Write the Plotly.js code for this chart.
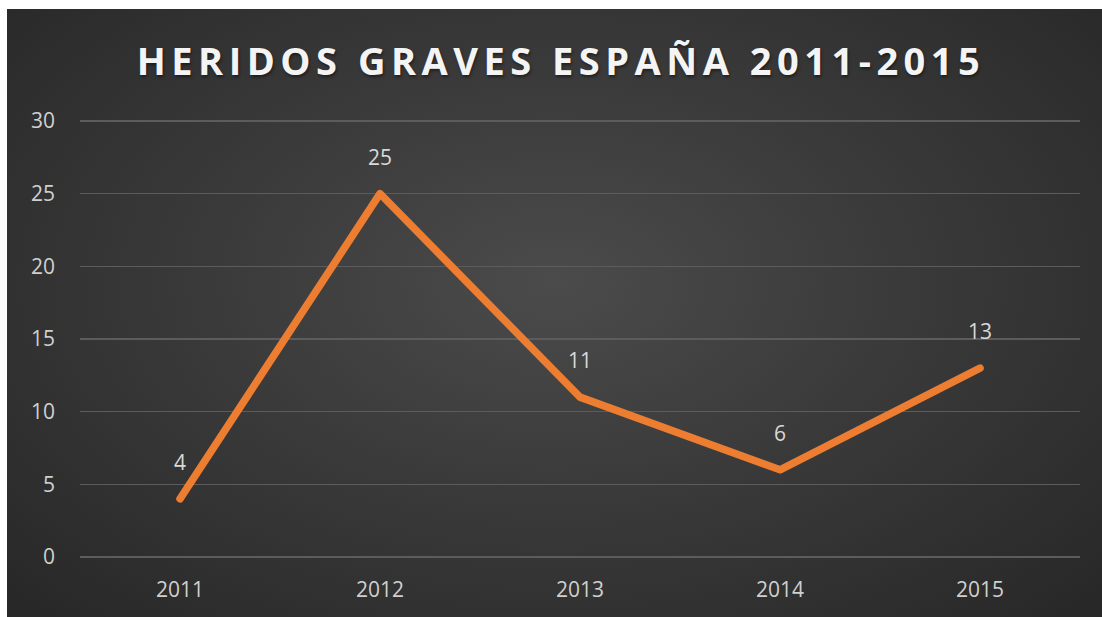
<!DOCTYPE html>
<html><head><meta charset="utf-8">
<script src="https://cdn.plot.ly/plotly-3.0.1.min.js"></script>
<style>
html,body{margin:0;padding:0;background:#fff;width:1102px;height:617px;overflow:hidden;}
#bg{position:absolute;left:7px;top:9px;width:1095px;height:608px;
background:radial-gradient(ellipse at 50% 45%, #4b4b4b 0%, #3a3a3a 45%, #272727 100%);}
#chart{position:absolute;left:0;top:0;width:1102px;height:617px;}
</style></head>
<body><div id="bg"></div><div id="chart"></div>
<script>
const years = ['2011','2012','2013','2014','2015'];
const heridos = [4, 25, 11, 6, 13];
const yTicks = [0, 5, 10, 15, 20, 25, 30];
const titleText = 'HERIDOS GRAVES ESPAÑA 2011-2015';

const trace = {
  x: years, y: heridos, type: 'scatter', mode: 'lines',
  line: {color: '#ED7D31', width: 7.5, shape: 'linear'},
  hoverinfo: 'skip'
};
const annotations = years.map((yr, i) => ({
  x: i, y: heridos[i], xref: 'x', yref: 'y', text: String(heridos[i]), showarrow: false,
  yshift: 37, font: {family: 'Open Sans, sans-serif', size: 21, color: '#d9d9d9'}
}));
const layout = {
  width: 1102, height: 617,
  paper_bgcolor: 'rgba(0,0,0,0)', plot_bgcolor: 'rgba(0,0,0,0)',
  margin: {l: 80, r: 22, t: 120, b: 59},
  showlegend: false,
  title: {text: titleText, x: 0.5, xanchor: 'center', y: 0.9, yanchor: 'middle',
    font: {family: 'Open Sans, sans-serif', size: 38, color: '#f4f4f4', weight: 700}},
  xaxis: {type: 'category', range: [-0.5, 4.5], showgrid: false, zeroline: false,
    showline: false, ticks: '', tickfont: {family: 'Open Sans, sans-serif', size: 21, color: '#d0d0d0'},
    ticklabelstandoff: 17, fixedrange: true},
  yaxis: {range: [-0.07, 30.07], tickvals: yTicks, showgrid: true, gridcolor: '#5c5c5c', gridwidth: 1.5,
    zeroline: false, showline: false, ticks: '',
    tickfont: {family: 'Open Sans, sans-serif', size: 21, color: '#d0d0d0'},
    ticklabelstandoff: 24, fixedrange: true},
  annotations: annotations
};
Plotly.newPlot('chart', [trace], layout, {displayModeBar: false, staticPlot: true}).then(gd => {
  const t = gd.querySelector('.gtitle');
  if (t) { t.style.letterSpacing = '5.5px'; t.style.textShadow = '1px 2px 3px rgba(0,0,0,0.45)';
    t.setAttribute('x', String(558 + 3)); }
  const p = gd.querySelector('.scatterlayer .js-line');
  if (p) { p.style.strokeLinejoin = 'round'; p.style.strokeLinecap = 'round'; }
});
</script></body></html>
